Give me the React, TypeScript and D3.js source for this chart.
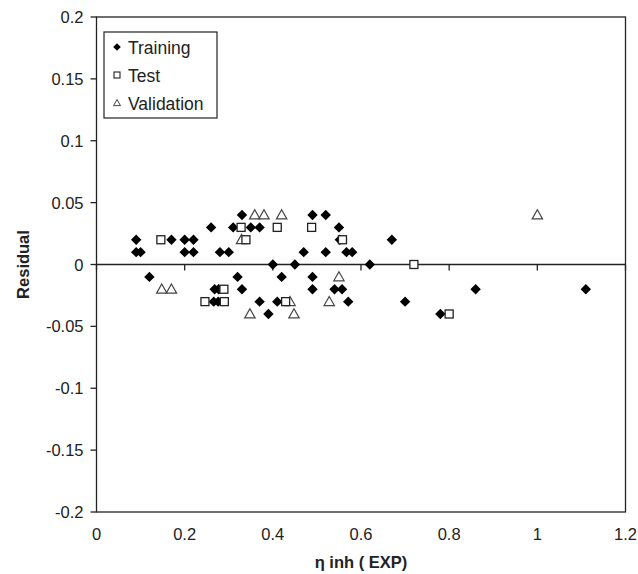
import React from "react";
import * as d3 from "d3";

const xTicks = [0, 0.2, 0.4, 0.6, 0.8, 1, 1.2];
const xTickLabels = ["0", "0.2", "0.4", "0.6", "0.8", "1", "1.2"];
const yTicks = [0.2, 0.15, 0.1, 0.05, 0, -0.05, -0.1, -0.15, -0.2];
const yTickLabels = ["0.2", "0.15", "0.1", "0.05", "0", "-0.05", "-0.1", "-0.15", "-0.2"];

const trainingX = [0.09, 0.09, 0.10, 0.12, 0.17, 0.20, 0.22, 0.20, 0.22, 0.26, 0.28, 0.30, 0.268, 0.277, 0.266, 0.276,
  0.31, 0.33, 0.35, 0.37, 0.32, 0.33, 0.37, 0.39, 0.40, 0.42, 0.41, 0.45, 0.47, 0.49, 0.52, 0.55, 0.552,
  0.52, 0.567, 0.58, 0.49, 0.49, 0.54, 0.557, 0.571, 0.62, 0.67, 0.70, 0.78, 0.86, 1.11];
const trainingY = [0.02, 0.01, 0.01, -0.01, 0.02, 0.02, 0.02, 0.01, 0.01, 0.03, 0.01, 0.01, -0.02, -0.02, -0.03, -0.03,
  0.03, 0.04, 0.03, 0.03, -0.01, -0.02, -0.03, -0.04, 0, -0.01, -0.03, 0, 0.01, 0.04, 0.04, 0.03, 0.02,
  0.01, 0.01, 0.01, -0.01, -0.02, -0.02, -0.02, -0.03, 0, 0.02, -0.03, -0.04, -0.02, -0.02];

const testX = [0.146, 0.246, 0.289, 0.29, 0.328, 0.339, 0.41, 0.429, 0.488, 0.558, 0.72, 0.80];
const testY = [0.02, -0.03, -0.02, -0.03, 0.03, 0.02, 0.03, -0.03, 0.03, 0.02, 0, -0.04];

const validationX = [0.148, 0.17, 0.329, 0.359, 0.38, 0.42, 0.348, 0.439, 0.448, 0.528, 0.55, 1.0];
const validationY = [-0.02, -0.02, 0.02, 0.04, 0.04, 0.04, -0.04, -0.03, -0.04, -0.03, -0.01, 0.04];

const legendLabels = ["Training", "Test", "Validation"];

const W = 638, H = 574;
const left = 96.5, right = 625.5, top = 17, bottom = 512;
const font = "'Liberation Sans', Arial, sans-serif";

const diamond = (cx: number, cy: number, r: number) =>
  `M${cx},${cy - r}L${cx + r},${cy}L${cx},${cy + r}L${cx - r},${cy}Z`;
const triangle = (cx: number, cy: number, r: number) =>
  `M${cx},${cy - r}L${cx + r},${cy + r * 0.75}L${cx - r},${cy + r * 0.75}Z`;

export default function App() {
  const x = d3.scaleLinear().domain([0, 1.2]).range([left, right]);
  const y = d3.scaleLinear().domain([-0.2, 0.2]).range([bottom, top]);
  const y0 = y(0);

  return (
    <svg width={W} height={H} style={{ position: "absolute", left: 0, top: 0, background: "#fff" }}>
      <rect x={0} y={0} width={W} height={H} fill="#fff" />
      <rect x={left} y={top} width={right - left} height={bottom - top} fill="none" stroke="#222" strokeWidth={1.3} />
      <line x1={left} x2={right} y1={y0} y2={y0} stroke="#222" strokeWidth={1.5} />
      {xTicks.map((t, i) => (
        <line key={"xt" + i} x1={x(t)} x2={x(t)} y1={y0} y2={y0 + 6} stroke="#222" strokeWidth={1.3} />
      ))}
      {yTicks.map((t, i) => (
        <line key={"yt" + i} x1={left - 6} x2={left} y1={y(t)} y2={y(t)} stroke="#222" strokeWidth={1.3} />
      ))}
      {yTicks.map((t, i) => (
        <text key={"yl" + i} x={left - 13} y={y(t) + 6} textAnchor="end" fontFamily={font} fontSize={16.5} fill="#222">
          {yTickLabels[i]}
        </text>
      ))}
      {xTicks.map((t, i) => (
        <text key={"xl" + i} x={x(t)} y={540} textAnchor="middle" fontFamily={font} fontSize={16.5} fill="#222">
          {xTickLabels[i]}
        </text>
      ))}
      <text x={(left + right) / 2} y={568} textAnchor="middle" fontFamily={font} fontSize={16.5} fontWeight="bold" fill="#222">
        η inh ( EXP)
      </text>
      <text transform={`translate(29,${(top + bottom) / 2}) rotate(-90)`} textAnchor="middle" fontFamily={font} fontSize={16.5} fontWeight="bold" fill="#222">
        Residual
      </text>

      {validationX.map((v, i) => (
        <path key={"v" + i} d={triangle(x(v), y(validationY[i]), 5.2)} fill="#fff" stroke="#444" strokeWidth={1.2} />
      ))}
      {trainingX.map((v, i) => (
        <path key={"t" + i} d={diamond(x(v), y(trainingY[i]), 5.2)} fill="#000" />
      ))}
      {testX.map((v, i) => (
        <rect key={"s" + i} x={x(v) - 4} y={y(testY[i]) - 4} width={8} height={8} fill="#fff" stroke="#222" strokeWidth={1.3} />
      ))}

      <rect x={104} y={32} width={113} height={86} fill="#fff" stroke="#222" strokeWidth={1.2} />
      <path d={diamond(117, 47, 3.8)} fill="#000" />
      <rect x={114} y={72} width={6} height={6} fill="#fff" stroke="#222" strokeWidth={1.1} />
      <path d={triangle(117, 103, 3.5)} fill="#fff" stroke="#444" strokeWidth={1} />
      {legendLabels.map((l, i) => (
        <text key={"lg" + i} x={128} y={53.5 + i * 28} fontFamily={font} fontSize={17.5} fill="#222">
          {l}
        </text>
      ))}
    </svg>
  );
}
